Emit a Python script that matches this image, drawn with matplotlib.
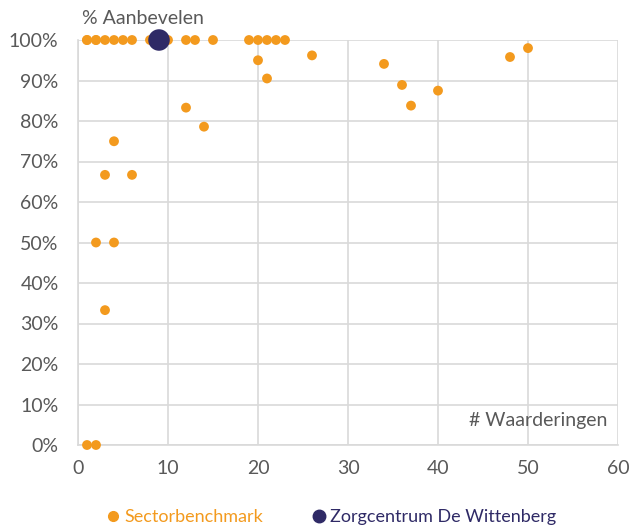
import matplotlib
matplotlib.use("Agg")
import matplotlib.pyplot as plt
from matplotlib.ticker import PercentFormatter, MultipleLocator
from matplotlib.lines import Line2D

plt.rcParams['font.family'] = ['Lato', 'DejaVu Sans']

# Sectorbenchmark: number of ratings vs % recommending
bench_x = [1, 2, 1, 2, 3, 4, 5, 6, 8, 10, 12, 13, 15, 19, 20, 21, 22, 23,
           20, 21, 26, 12, 14, 34, 36, 37, 40, 48, 50,
           4, 3, 6, 2, 4, 3, 1, 2]
bench_y = [100, 100, 100, 100, 100, 100, 100, 100, 100, 100, 100, 100, 100, 100, 100, 100, 100, 100,
           95.0, 90.5, 96.2, 83.3, 78.6, 94.1, 88.9, 83.8, 87.5, 95.8, 98.0,
           75.0, 66.7, 66.7, 50.0, 50.0, 33.3, 0, 0]

# Zorgcentrum De Wittenberg
org_x = [9]
org_y = [100]

orange = "#F39A1E"
navy = "#2F2A66"
grey_text = "#595959"
grid = "#D9D9D9"

fig = plt.figure(figsize=(6.32, 5.26), dpi=100)
ax = fig.add_axes([78/632, 1-445/526, (618-78)/632, (445-40)/526])

ax.scatter(bench_x, bench_y, s=50, color=orange, edgecolors='none', clip_on=False, zorder=3)
ax.scatter(org_x, org_y, s=240, color=navy, edgecolors='none', clip_on=False, zorder=4)

ax.set_xlim(0, 60)
ax.set_ylim(0, 100)
ax.xaxis.set_major_locator(MultipleLocator(10))
ax.yaxis.set_major_locator(MultipleLocator(10))
ax.yaxis.set_major_formatter(PercentFormatter(decimals=0))
ax.grid(True, color=grid, linewidth=1.2, zorder=0)
ax.set_axisbelow(True)
for side in ['top', 'right']:
    ax.spines[side].set_visible(False)
for side in ['left', 'bottom']:
    ax.spines[side].set_color(grid)
    ax.spines[side].set_linewidth(1.2)
ax.tick_params(length=0, labelsize=14, labelcolor=grey_text)
ax.tick_params(axis='y', pad=14)
ax.tick_params(axis='x', pad=11)

fig.text(82/632, 1-19/526, "% Aanbevelen", fontsize=14, color=grey_text, va='center', ha='left')
ax.text(58.8, 6, "# Waarderingen", fontsize=14, color=grey_text, va='center', ha='right')

handles = [Line2D([], [], marker='o', linestyle='none', color=orange, markersize=7),
           Line2D([], [], marker='o', linestyle='none', color=navy, markersize=9)]
leg = fig.legend(handles, ["Sectorbenchmark", "Zorgcentrum De Wittenberg"],
                 loc='center', bbox_to_anchor=(0.521, 1-517/526), ncol=2, frameon=False,
                 fontsize=13, handletextpad=0.0, columnspacing=2.5, handlelength=1.2)
for t, c in zip(leg.get_texts(), [orange, navy]):
    t.set_color(c)

fig.savefig("out.png", dpi=100)
